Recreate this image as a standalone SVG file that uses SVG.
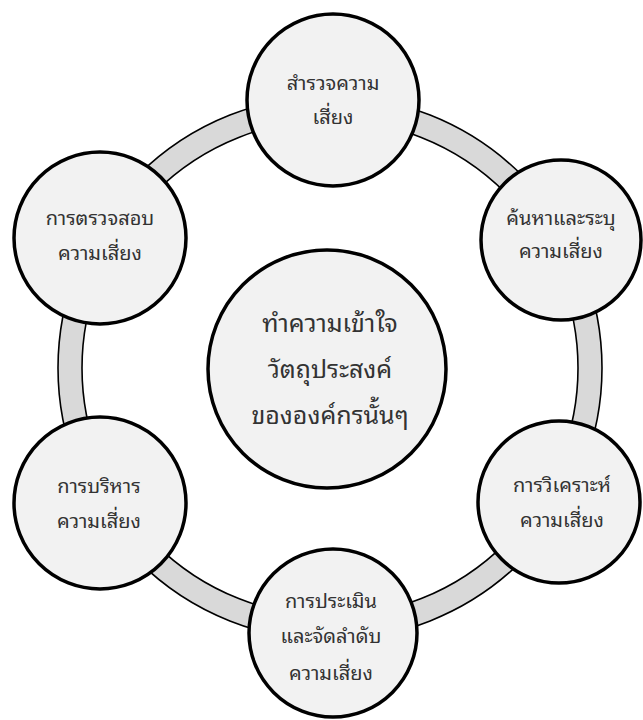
<svg xmlns="http://www.w3.org/2000/svg" width="643" height="720" viewBox="0 0 643 720">
  <style>
    .band { fill: none; stroke: #d9d9d9; stroke-width: 24; }
    .edge { fill: none; stroke: #000; stroke-width: 1.6; }
    .node { fill: #f2f2f2; stroke: #000; stroke-width: 3.5; }
    .lbl { font-family: "Noto Sans Thai Looped", "Loma", "Garuda", "Tahoma", "Noto Sans Thai", "Noto Sans", "DejaVu Sans", sans-serif; font-size: 20px; fill: #333; text-anchor: middle; }
    .big { font-size: 25px; }
  </style>
  <rect width="643" height="720" fill="#fff"/>

  <!-- connecting ring -->
  <g id="connectors">
    <circle class="band" cx="330" cy="368" r="260"/>
    <circle class="edge" cx="330" cy="368" r="272"/>
    <circle class="edge" cx="330" cy="368" r="248"/>
  </g>

  <g id="node-survey">
    <circle class="node" cx="333" cy="100" r="86"/>
    <text class="lbl" x="333" y="90">สำรวจความ</text>
    <text class="lbl" x="333" y="124">เสี่ยง</text>
  </g>

  <g id="node-identify">
    <circle class="node" cx="561" cy="240" r="80"/>
    <text class="lbl" x="561" y="225">ค้นหาและระบุ</text>
    <text class="lbl" x="561" y="258">ความเสี่ยง</text>
  </g>

  <g id="node-analyse">
    <circle class="node" cx="559" cy="502" r="81"/>
    <text class="lbl" x="562" y="492">การวิเคราะห์</text>
    <text class="lbl" x="562" y="527">ความเสี่ยง</text>
  </g>

  <g id="node-evaluate">
    <circle class="node" cx="333" cy="633" r="84"/>
    <text class="lbl" x="331" y="608">การประเมิน</text>
    <text class="lbl" x="331" y="643">และจัดลำดับ</text>
    <text class="lbl" x="331" y="680">ความเสี่ยง</text>
  </g>

  <g id="node-manage">
    <circle class="node" cx="100" cy="503" r="86"/>
    <text class="lbl" x="99" y="493">การบริหาร</text>
    <text class="lbl" x="99" y="528">ความเสี่ยง</text>
  </g>

  <g id="node-review">
    <circle class="node" cx="100" cy="238" r="86"/>
    <text class="lbl" x="100" y="225">การตรวจสอบ</text>
    <text class="lbl" x="100" y="260">ความเสี่ยง</text>
  </g>

  <g id="node-center">
    <circle class="node" cx="327" cy="369" r="119"/>
    <text class="lbl big" x="330" y="332">ทำความเข้าใจ</text>
    <text class="lbl big" x="330" y="378">วัตถุประสงค์</text>
    <text class="lbl big" x="330" y="424">ขององค์กรนั้นๆ</text>
  </g>
</svg>
